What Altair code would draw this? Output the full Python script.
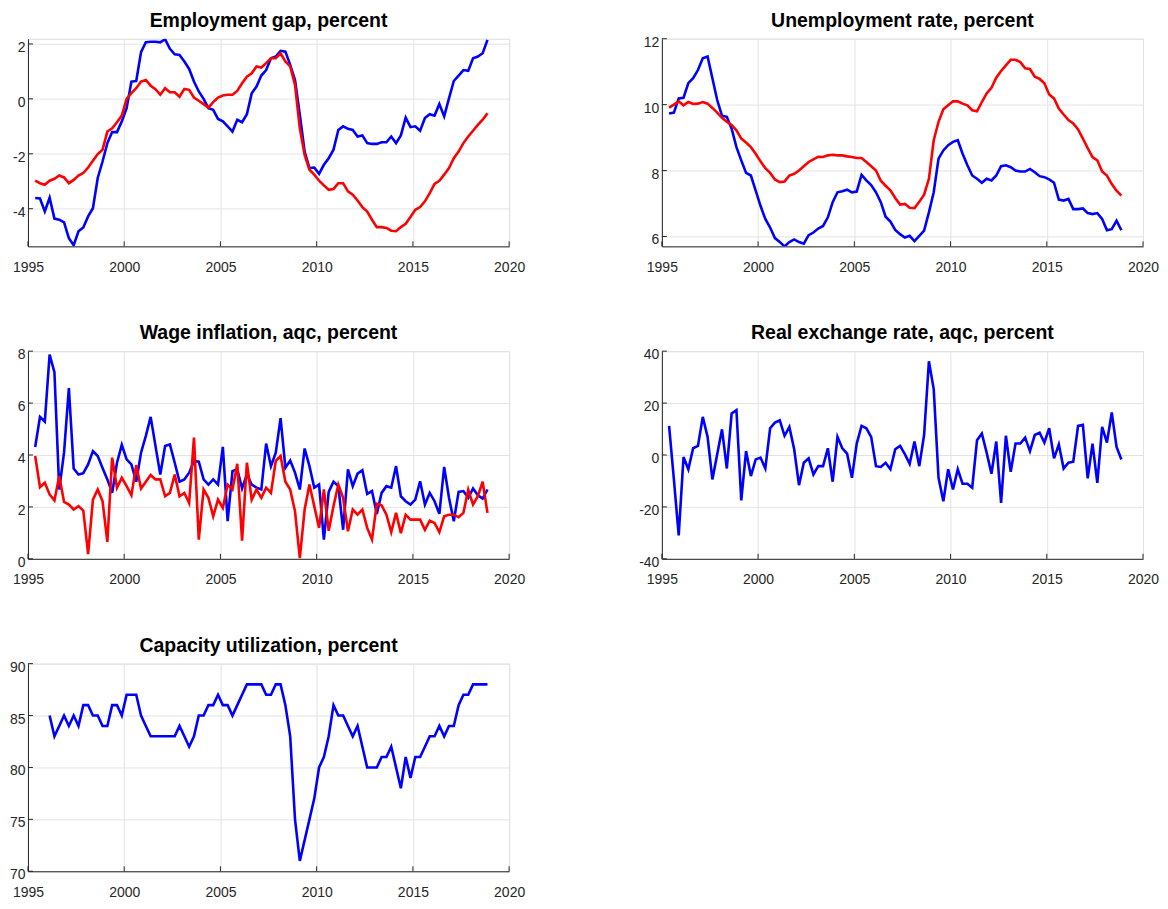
import altair as alt
import pandas as pd

# ---------------- data (quarterly, 1995Q2 - 2018Q4) ----------------
quarters = pd.period_range("1995Q2", "2018Q4", freq="Q")
t_all = [p.year + (p.quarter - 0.5) / 4 for p in quarters]

emp_gap_blue = [
    -3.61, -3.63, -4.1, -3.6, -4.36, -4.4, -4.5, -5.07, -5.33, -4.82, -4.68, -4.28,
    -3.98, -2.88, -2.28, -1.61, -1.21, -1.21, -0.82, -0.34, 0.63, 0.65, 1.7, 2.06,
    2.08, 2.08, 2.06, 2.17, 1.82, 1.62, 1.6, 1.36, 1.09, 0.63, 0.27, 0.0, -0.34, -0.4,
    -0.73, -0.82, -1.0, -1.19, -0.76, -0.85, -0.56, 0.2, 0.45, 0.85,
    1.05, 1.48, 1.54, 1.75, 1.72, 1.24, 0.69, -0.58, -1.92, -2.52, -2.5, -2.73, -2.4,
    -2.16, -1.85, -1.13, -1.0, -1.09, -1.13, -1.37, -1.33, -1.61, -1.64, -1.64, -1.58,
    -1.58, -1.37, -1.61, -1.33, -0.68, -1.03, -1.0, -1.16, -0.7, -0.56, -0.61, -0.19,
    -0.64, 0.02, 0.65, 0.85, 1.05, 1.02, 1.48, 1.54, 1.66, 2.15]
emp_gap_red = [
    -2.98, -3.07, -3.13, -2.98, -2.91, -2.79, -2.86, -3.07, -2.95, -2.79, -2.7, -2.5,
    -2.25, -2.01, -1.85, -1.19, -1.07, -0.85, -0.61, 0.0, 0.21, 0.39, 0.63, 0.69, 0.48,
    0.35, 0.15, 0.39, 0.24, 0.24, 0.08, 0.36, 0.33, 0.05, -0.07, -0.19, -0.32, -0.12,
    0.05, 0.12, 0.15, 0.15, 0.29, 0.57, 0.81, 0.93, 1.18, 1.14,
    1.3, 1.48, 1.48, 1.66, 1.36, 1.18, 0.51, -1.07, -2.04, -2.58, -2.76, -2.98, -3.15,
    -3.31, -3.28, -3.07, -3.07, -3.37, -3.49, -3.7, -3.94, -4.1, -4.4, -4.67, -4.67,
    -4.7, -4.8, -4.82, -4.67, -4.55, -4.3, -4.04, -3.94, -3.73, -3.43, -3.1, -2.98,
    -2.76, -2.52, -2.16, -1.92, -1.61, -1.37, -1.16, -0.95, -0.76, -0.52]

unemp_blue = [
    9.73, 9.76, 10.19, 10.21, 10.65, 10.8, 11.05, 11.41, 11.46, 10.8, 10.14, 9.66, 9.63,
    9.27, 8.71, 8.31, 7.93, 7.85, 7.39, 6.93, 6.53, 6.27, 5.95, 5.83, 5.7, 5.83, 5.91,
    5.83, 5.78, 6.04, 6.12, 6.24, 6.32, 6.58, 7.04, 7.34, 7.37, 7.42, 7.34, 7.36, 7.87,
    7.7, 7.56, 7.34, 7.04, 6.6, 6.45, 6.2,
    6.07, 5.97, 6.02, 5.86, 6.02, 6.18, 6.73, 7.34, 8.36, 8.61, 8.77, 8.87, 8.92, 8.51,
    8.16, 7.85, 7.75, 7.63, 7.75, 7.7, 7.85, 8.13, 8.16, 8.1, 8.0, 7.97, 7.97, 8.05,
    7.95, 7.83, 7.8, 7.73, 7.63, 7.12, 7.09, 7.14, 6.83, 6.83, 6.85, 6.71, 6.68, 6.71,
    6.53, 6.19, 6.22, 6.48, 6.19]
unemp_red = [
    9.91, 10.0, 10.1, 9.98, 10.08, 10.02, 10.03, 10.08, 10.03, 9.9, 9.76, 9.6, 9.48,
    9.38, 9.22, 8.97, 8.85, 8.71, 8.51, 8.28, 8.07, 7.93, 7.73, 7.65, 7.67, 7.85, 7.9,
    8.0, 8.13, 8.26, 8.34, 8.42, 8.41, 8.46, 8.48, 8.46, 8.46, 8.43, 8.41, 8.38, 8.38,
    8.26, 8.13, 8.0, 7.69, 7.54, 7.4, 7.17,
    6.97, 6.99, 6.87, 6.86, 7.05, 7.27, 7.75, 8.92, 9.48, 9.86, 9.98, 10.1, 10.1, 10.03,
    9.98, 9.83, 9.8, 10.08, 10.34, 10.51, 10.82, 11.02, 11.19, 11.36, 11.36, 11.29,
    11.1, 11.08, 10.85, 10.78, 10.65, 10.31, 10.19, 9.88, 9.7, 9.53, 9.43, 9.25, 8.97,
    8.68, 8.41, 8.31, 7.97, 7.85, 7.59, 7.39, 7.24]

wage_blue = [
    4.31, 5.47, 5.29, 7.87, 7.19, 2.67, 4.1, 6.58, 3.48, 3.25, 3.3, 3.64, 4.15, 3.96,
    3.5, 3.06, 2.54, 3.7, 4.39, 3.83, 3.64, 2.97, 4.09, 4.74, 5.47, 4.35, 3.25, 4.35,
    4.41, 3.7, 2.97, 3.06, 3.32, 3.77, 3.74, 3.06, 2.86, 3.06, 2.86, 4.31, 1.45, 3.38,
    3.45, 2.71, 3.25, 2.86, 2.74, 2.67,
    4.44, 3.57, 4.09, 5.42, 3.51, 3.79, 3.32, 2.67, 4.25, 3.57, 2.74, 2.86, 0.74, 2.58,
    2.97, 2.8, 1.12, 3.45, 2.8, 3.28, 3.41, 2.5, 2.61, 1.73, 2.54, 2.8, 2.74, 3.57,
    2.41, 2.22, 2.09, 2.28, 2.99, 2.09, 2.54, 2.22, 1.73, 3.54, 2.35, 1.45, 2.58, 2.61,
    2.35, 2.71, 2.45, 2.32, 2.67]
wage_red = [
    3.96, 2.76, 2.93, 2.48, 2.25, 3.19, 2.19, 2.09, 1.9, 2.03, 1.86, 0.18, 2.28, 2.67,
    2.22, 0.65, 3.9, 2.74, 3.12, 2.8, 2.45, 3.61, 2.71, 2.97, 3.23, 3.06, 3.06, 2.41,
    2.54, 3.25, 2.41, 2.54, 2.15, 4.67, 0.74, 2.67, 2.35, 1.64, 2.28, 1.96, 2.86, 2.67,
    3.66, 0.7, 3.7, 2.28, 2.67, 2.35,
    2.74, 2.54, 3.77, 3.96, 2.97, 2.67, 1.83, 0.03, 1.9, 2.86, 2.03, 1.19, 2.67, 1.08,
    2.03, 2.86, 2.35, 1.06, 1.9, 1.7, 1.9, 1.19, 0.74, 2.12, 2.06, 1.7, 1.03, 1.77,
    0.99, 1.7, 1.51, 1.51, 1.51, 1.12, 1.47, 1.38, 1.03, 1.64, 1.7, 1.7, 1.6, 1.77,
    2.67, 2.09, 2.41, 2.97, 1.77]

rer_blue = [
    11.2, -9.4, -31, -0.8, -5.5, 2.6, 3.5, 14.7, 7, -9.4, 0.3, 9.9, -5.2, 16, 17.3,
    -17.5, 1.5, -8.1, -1.7, -1.0, -5.2, 10.3, 12.5, 13.4, 7.4, 10.8, 2.2, -11.6, -3,
    -1.3, -7.5, -4.3, -4.3, 2.6, -10.3, 7, 2.6, 0.5, -8.8, 4.4, 11.2, 10.3, 7, -4.3,
    -4.6, -3, -5.5, 2.2,
    3.5, 0.3, -3.4, 5.2, -4.3, 7.7, 36.1, 25.4, -8.8, -17.8, -5.5, -13.3, -5.5, -11.1,
    -11.1, -12.6, 5.7, 8.3, 0.9, -7.2, 5.2, -18.5, 7.4, -6.5, 4.4, 4.4, 6.7, 1.5, 7.7,
    8.6, 4.8, 10.3, -1.3, 4.1, -5.2, -3, -2.6, 11.2, 11.6, -9, 4.4, -10.7, 10.8, 4.8,
    16.4, 3.1, -1.7]

# capacity utilization starts in 1996Q1
capacity_blue = [
    85, 83, 84, 85, 84, 85, 84, 86, 86, 85, 85, 84, 84, 86, 86, 85, 87, 87, 87, 85, 84,
    83, 83, 83, 83, 83, 83, 84, 83, 82, 83, 85, 85, 86, 86, 87, 86, 86, 85, 86, 87, 88,
    88, 88, 88,
    87, 87, 88, 88, 86, 83, 75, 71, 73, 75, 77, 80, 81, 83, 86, 85, 85, 84, 83, 84, 82,
    80, 80, 80, 81, 81, 82, 80, 78, 81, 79, 81, 81, 82, 83, 83, 84, 83, 84, 84, 86, 87,
    87, 88, 88, 88, 88]

titles = ["Employment gap, percent", "Unemployment rate, percent",
          "Wage inflation, aqc, percent", "Real exchange rate, aqc, percent",
          "Capacity utilization, percent"]
x_ticks = [1995, 2000, 2005, 2010, 2015, 2020]
y_ticks = [[-4, -2, 0, 2], [6, 8, 10, 12], [0, 2, 4, 6, 8],
           [-40, -20, 0, 20, 40], [70, 75, 80, 85, 90]]
y_domains = [[-5.37, 2.19], [5.7, 12], [0, 8], [-40, 40], [70, 90]]

# ---------------- styling ----------------
FONT = "Liberation Sans"
AX = "#262626"
GRID = "#e3e3e3"
BLUE = "#0000ff"
RED = "#ff0000"
H = 208
W = 482
MINUS_FIX = "replace(datum.label, '\u2212', '-')"


def panel(idx, series):
    xscale = alt.Scale(domain=[1995, 2020], nice=False, zero=False)
    yscale = alt.Scale(domain=y_domains[idx], nice=False, zero=False)
    xaxis = alt.Axis(values=x_ticks, format="d", title=None, grid=True, gridColor=GRID,
                     gridWidth=1, ticks=False, tickSize=0, domainColor=AX, domainWidth=1,
                     labelFont=FONT, labelFontSize=14, labelColor=AX, labelPadding=14,
                     labelFlush=False)
    yaxis = alt.Axis(values=y_ticks[idx], title=None, grid=True, gridColor=GRID,
                     gridWidth=1, ticks=False, tickSize=0, domainColor=AX, domainWidth=1,
                     labelFont=FONT, labelFontSize=14, labelColor=AX, labelPadding=3,
                     labelOffset=3.5, labelFlush=False, labelExpr=MINUS_FIX)
    layers = []
    for vals, color in series:
        df = pd.DataFrame({"t": t_all[len(t_all) - len(vals):], "v": vals})
        layers.append(
            alt.Chart(df).mark_line(color=color, strokeWidth=2.6, clip=True).encode(
                x=alt.X("t:Q", scale=xscale, axis=xaxis),
                y=alt.Y("v:Q", scale=yscale, axis=yaxis)))
    xt = alt.Chart(pd.DataFrame({"t": x_ticks})).mark_rule(color=AX, strokeWidth=1).encode(
        x=alt.X("t:Q", scale=xscale, axis=xaxis), y=alt.value(H), y2=alt.value(H - 5))
    yt = alt.Chart(pd.DataFrame({"v": y_ticks[idx]})).mark_rule(color=AX, strokeWidth=1).encode(
        y=alt.Y("v:Q", scale=yscale, axis=yaxis), x=alt.value(0), x2=alt.value(5))
    ttl = alt.Chart(pd.DataFrame({"title": [titles[idx]]})).mark_text(
        font=FONT, fontSize=19.5, fontWeight="bold", color="#000000", align="center",
        baseline="alphabetic").encode(
        text="title:N", x=alt.value(W / 2), y=alt.value(-12))
    return alt.layer(*layers, xt, yt, ttl).properties(width=W, height=H)


p1 = panel(0, [(emp_gap_blue, BLUE), (emp_gap_red, RED)])
p2 = panel(1, [(unemp_blue, BLUE), (unemp_red, RED)])
p3 = panel(2, [(wage_blue, BLUE), (wage_red, RED)])
p4 = panel(3, [(rer_blue, BLUE)])
p5 = panel(4, [(capacity_blue, BLUE)])

chart = alt.ConcatChart(
    concat=[p1, p2, p3, p4, p5], columns=2,
    spacing={"row": 105, "column": 153}, bounds="flush",
    padding={"left": 0, "top": 1, "right": 0, "bottom": -2.5},
).configure_view(stroke=None).configure(background="white")

chart.save("out.html", embed_options={"renderer": "svg", "actions": False})
